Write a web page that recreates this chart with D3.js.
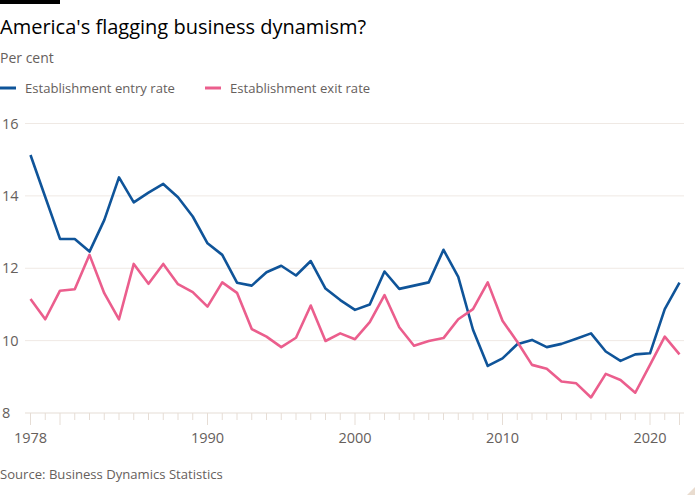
<!DOCTYPE html>
<html>
<head>
<meta charset="utf-8">
<script src="https://cdn.jsdelivr.net/npm/d3@7"></script>
<style>
  body { margin: 0; background: #fff; }
  svg { display: block; font-family: "Open Sans", sans-serif; }
</style>
</head>
<body>
<svg id="chart" width="700" height="500"></svg>
<script>
const years = d3.range(1978, 2023);
const entryRate = [15.13, 13.97, 12.81, 12.81, 12.46, 13.33, 14.51, 13.82, 14.09, 14.33,
  13.96, 13.43, 12.69, 12.37, 11.60, 11.52, 11.89, 12.07, 11.80, 12.20,
  11.44, 11.12, 10.85, 11.00, 11.91, 11.43, 11.52, 11.61, 12.51, 11.76,
  10.30, 9.30, 9.51, 9.90, 10.02, 9.82, 9.91, 10.05, 10.20, 9.70,
  9.44, 9.62, 9.65, 10.87, 11.60];
const exitRate = [11.15, 10.59, 11.38, 11.42, 12.37, 11.31, 10.59, 12.12, 11.57, 12.12,
  11.56, 11.34, 10.94, 11.61, 11.32, 10.32, 10.11, 9.82, 10.08, 10.97,
  9.99, 10.20, 10.04, 10.51, 11.26, 10.37, 9.86, 9.99, 10.07, 10.59,
  10.87, 11.61, 10.55, 9.97, 9.33, 9.22, 8.87, 8.82, 8.43, 9.08,
  8.91, 8.56, 9.33, 10.11, 9.62];
const yTicks = [8, 10, 12, 14, 16];
const xTickLabels = [1978, 1990, 2000, 2010, 2020];
const longTicks = [1978, 1980, 1990, 2000, 2010, 2020, 2022];
const seriesNames = ["Establishment entry rate", "Establishment exit rate"];
const seriesColors = ["#0f5499", "#eb5e8d"];

const svg = d3.select("#chart");
const textColor = "#66605c";

const x = d3.scaleLinear().domain([1978, 2022]).range([30.5, 679.5]);
const y = d3.scaleLinear().domain([8, 16]).range([413, 123.5]);

// top black bar
svg.append("rect").attr("x", 0).attr("y", 0).attr("width", 60).attr("height", 4).attr("fill", "#000");

svg.append("text").attr("x", 0).attr("y", 34)
  .attr("font-size", 20).attr("fill", "#000")
  .text("America's flagging business dynamism?");

svg.append("text").attr("x", 0).attr("y", 63)
  .attr("font-size", 14).attr("fill", textColor)
  .text("Per cent");

// legend
const legX = [0, 205];
seriesNames.forEach((n, i) => {
  svg.append("line").attr("x1", legX[i]).attr("x2", legX[i] + 16)
    .attr("y1", 88).attr("y2", 88)
    .attr("stroke", seriesColors[i]).attr("stroke-width", 3);
  svg.append("text").attr("x", legX[i] + 25).attr("y", 93)
    .attr("font-size", 13.1).attr("fill", textColor).text(n);
});

// gridlines
svg.append("g").selectAll("line").data(yTicks.filter(d => d !== 8)).join("line")
  .attr("x1", 25).attr("x2", 684)
  .attr("y1", d => y(d)).attr("y2", d => y(d))
  .attr("stroke", "#efe9e4").attr("stroke-width", 1);

// y labels
svg.append("g").selectAll("text").data(yTicks).join("text")
  .attr("x", 2).attr("y", d => y(d) + 5)
  .attr("font-size", 14.5).attr("fill", textColor)
  .text(d => d);

// x axis baseline
svg.append("line").attr("x1", 25).attr("x2", 684)
  .attr("y1", y(8)).attr("y2", y(8))
  .attr("stroke", "#e6ddd5").attr("stroke-width", 1.2);

// x ticks
svg.append("g").selectAll("line").data(years).join("line")
  .attr("x1", d => x(d)).attr("x2", d => x(d))
  .attr("y1", y(8)).attr("y2", d => longTicks.includes(d) ? y(8) + 12 : y(8) + 7)
  .attr("stroke", "#e6ddd5").attr("stroke-width", 1);

svg.append("g").selectAll("text").data(xTickLabels).join("text")
  .attr("x", d => x(d)).attr("y", 443)
  .attr("text-anchor", "middle")
  .attr("font-size", 14.5).attr("fill", textColor)
  .text(d => d);

// lines
const line = d3.line().x((d, i) => x(years[i])).y(d => y(d));
[entryRate, exitRate].forEach((s, i) => {
  svg.append("path").datum(s).attr("d", line)
    .attr("fill", "none").attr("stroke", seriesColors[i])
    .attr("stroke-width", 2.6).attr("stroke-linejoin", "round");
});

svg.append("text").attr("x", 0).attr("y", 479)
  .attr("font-size", 13.1).attr("fill", textColor)
  .text("Source: Business Dynamics Statistics");

// corner mark
svg.append("path").attr("d", "M695,487 L695,495 L687,495 Z").attr("fill", "#e9dccf");
</script>
</body>
</html>
